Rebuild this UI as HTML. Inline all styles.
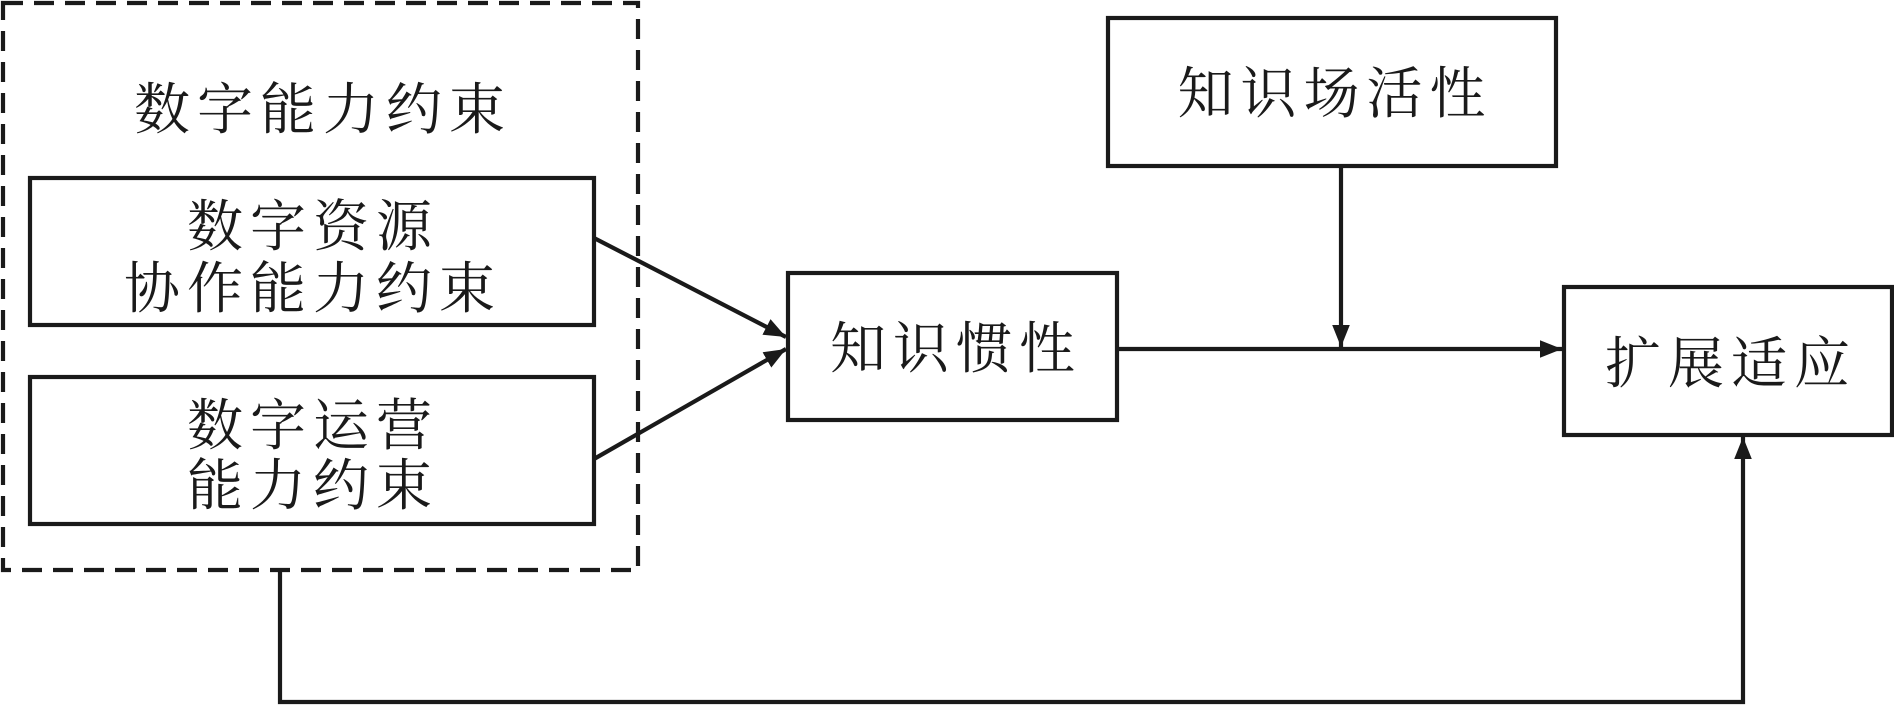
<!DOCTYPE html>
<html><head><meta charset="utf-8"><style>
html,body{margin:0;padding:0;background:#fff;}
svg text{font-family:"Liberation Serif","Noto Serif CJK SC",serif;fill:#1a1a1a;}
</style></head><body>
<svg width="1894" height="706" viewBox="0 0 1894 706" xmlns="http://www.w3.org/2000/svg">
<defs>
<marker id="b" viewBox="0 0 10 8" markerWidth="22" markerHeight="18" refX="10" refY="4" orient="auto" markerUnits="userSpaceOnUse"><path d="M0,0 L10,4 L0,8 Z" fill="#1a1a1a"/></marker></defs>
<g fill="none" stroke="#1a1a1a" stroke-width="4.2">
<rect x="3" y="3" width="635" height="567" stroke-dasharray="20,11"/>
<rect x="30" y="178" width="564" height="147"/>
<rect x="30" y="377" width="564" height="147"/>
<rect x="788" y="273" width="329" height="147"/>
<rect x="1108" y="18" width="448" height="148"/>
<rect x="1564" y="287" width="328" height="148"/>
<line x1="594" y1="238" x2="786" y2="337" marker-end="url(#b)"/>
<line x1="594" y1="459" x2="786" y2="349" marker-end="url(#b)"/>
<line x1="1117" y1="349" x2="1562" y2="349" marker-end="url(#b)"/>
<line x1="1341" y1="166" x2="1341" y2="347" marker-end="url(#b)"/>
<polyline points="280,570 280,702 1743,702 1743,437" marker-end="url(#b)"/>
</g>
<g font-size="56" text-anchor="middle" letter-spacing="7">
<text x="323" y="129">数字能力约束</text>
<text x="313" y="246">数字资源</text>
<text x="313" y="308">协作能力约束</text>
<text x="313" y="445">数字运营</text>
<text x="313" y="505">能力约束</text>
<text x="956" y="368">知识惯性</text>
<text x="1335" y="113">知识场活性</text>
<text x="1731" y="383">扩展适应</text>
</g>
</svg>
</body></html>
